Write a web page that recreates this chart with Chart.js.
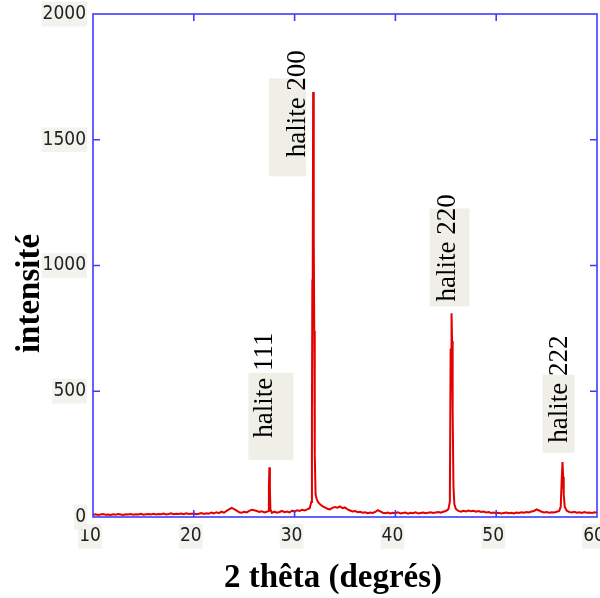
<!DOCTYPE html>
<html>
<head>
<meta charset="utf-8">
<script src="https://cdn.jsdelivr.net/npm/chart.js@4/dist/chart.umd.min.js"></script>
<style>
  html, body { margin: 0; padding: 0; background: #ffffff; }
  #wrap { width: 600px; height: 598px; }
</style>
</head>
<body>
<div id="wrap"><canvas id="c" width="600" height="598"></canvas></div>
<script>
// ---------- DATA ----------
const angles = [
  10.00,10.25,10.50,10.75,11.00,11.25,11.50,11.75,12.00,12.25,
  12.50,12.75,13.00,13.25,13.50,13.75,14.00,14.25,14.50,14.75,
  15.00,15.25,15.50,15.75,16.00,16.25,16.50,16.75,17.00,17.25,
  17.50,17.75,18.00,18.25,18.50,18.75,19.00,19.25,19.50,19.75,
  20.00,20.25,20.50,20.75,21.00,21.25,21.50,21.75,22.00,22.25,
  22.50,22.75,23.00,23.25,23.50,23.75,24.00,24.25,24.50,24.75,
  25.00,25.25,25.50,25.75,26.00,26.25,26.50,26.75,27.00,27.25,
  27.40,27.45,27.50,27.55,27.60,27.75,28.00,28.25,28.50,28.75,29.00,
  29.25,29.50,29.75,30.00,30.25,30.50,30.75,31.00,31.25,31.50,
  31.65,31.72,31.76,31.80,31.84,31.88,31.92,31.95,31.98,32.02,32.08,32.20,32.35,32.50,32.75,33.00,33.25,33.50,33.75,
  34.00,34.25,34.50,34.75,35.00,35.25,35.50,35.75,36.00,36.25,
  36.50,36.75,37.00,37.25,37.50,37.75,38.00,38.25,38.50,38.75,
  39.00,39.25,39.50,39.75,40.00,40.25,40.50,40.75,41.00,41.25,
  41.50,41.75,42.00,42.25,42.50,42.75,43.00,43.25,43.50,43.75,
  44.00,44.25,44.50,44.75,45.00,45.25,45.40,45.48,45.52,45.57,45.62,45.66,45.70,45.76,45.85,46.00,46.25,46.50,46.75,47.00,47.25,47.50,47.75,48.00,48.25,48.50,
  48.75,49.00,49.25,49.50,49.75,50.00,50.25,50.50,50.75,51.00,
  51.25,51.50,51.75,52.00,52.25,52.50,52.75,53.00,53.25,53.50,
  53.75,54.00,54.25,54.50,54.75,55.00,55.25,55.50,55.75,56.00,
  56.25,56.40,56.50,56.58,56.64,56.70,56.80,57.00,57.25,57.50,57.75,
  58.00,58.25,58.50,58.75,59.00,59.25,59.50,59.75,60.00
];
const intensities = [
  9,11,8,10,12,9,10,8,11,9,
  12,10,8,11,10,12,9,11,10,13,
  9,11,12,10,13,10,12,11,14,10,
  12,15,11,13,12,14,11,15,12,13,
  14,11,13,16,12,15,13,18,14,19,
  15,21,17,24,30,36,31,25,19,17,
  21,18,24,29,27,24,20,23,18,21,
  24,120,198,110,30,16,21,17,20,24,19,
  22,18,25,21,27,24,29,26,30,35,
  60,400,940,960,1690,1680,1100,740,720,250,90,70,58,52,43,38,33,30,36,
  40,37,42,35,38,30,26,22,24,19,
  21,17,19,15,18,16,20,27,22,17,
  15,18,14,17,15,19,14,16,18,13,
  17,15,19,14,16,18,15,17,19,16,
  18,20,17,21,24,30,60,670,660,810,700,430,420,120,50,32,24,21,25,22,26,23,25,21,24,20,
  22,18,20,16,18,15,17,14,16,18,
  15,17,14,18,16,19,17,20,18,22,
  24,30,26,21,18,20,17,19,18,21,
  24,40,150,219,160,90,40,25,20,18,21,
  17,19,16,20,17,18,16,19,17
];
const xTicks = [10, 20, 30, 40, 50, 60];
const yTicks = [0, 500, 1000, 1500, 2000];
const peakAngles = [27.50, 31.84, 45.57, 56.58];
const peakLabels = ['halite 111', 'halite 200', 'halite 220', 'halite 222'];
const xTitle = '2 thêta (degrés)';
const yTitle = 'intensité';

// ---------- STYLE / LAYOUT (not data) ----------
const FRAME = '#3c3cff';
const LINE = '#e20000';
const LABEL_BOX = '#efefe8';
// per-label placement: baseline offset from peak (px), text start as intensity value, box extents (px)
const labelPlacement = [
  { dx: 3,  yVal: 315,  box: [-24, 21, -65, 22] },
  { dx: -8, yVal: 1430, box: [-36, 1, -79, 19] },
  { dx: 3,  yVal: 857,  box: [-25, 15, -93, 5] },
  { dx: 4,  yVal: 295,  box: [-24, 8, -68, 10] }
];

const points = angles.map((a, i) => ({ x: a, y: intensities[i] }));

const whiteBg = {
  id: 'whiteBg',
  beforeDraw(chart) {
    const ctx = chart.ctx;
    ctx.save();
    ctx.fillStyle = '#ffffff';
    ctx.fillRect(0, 0, chart.width, chart.height);
    ctx.restore();
  }
};

const peakLabelsPlugin = {
  id: 'peakLabels',
  beforeDatasetsDraw(chart) {
    const ctx = chart.ctx;
    const xs = chart.scales.x, ys = chart.scales.y;
    ctx.save();
    peakLabels.forEach((txt, i) => {
      const p = labelPlacement[i];
      const bx = xs.getPixelForValue(peakAngles[i]) + p.dx;
      const by = ys.getPixelForValue(p.yVal);
      ctx.fillStyle = LABEL_BOX;
      ctx.fillRect(bx + p.box[0], by + p.box[2], p.box[1] - p.box[0], p.box[3] - p.box[2]);
      ctx.save();
      ctx.translate(bx, by);
      ctx.rotate(-Math.PI / 2);
      ctx.fillStyle = '#000000';
      ctx.font = '27px "Liberation Serif", "Times New Roman", serif';
      ctx.textAlign = 'left';
      ctx.textBaseline = 'alphabetic';
      ctx.fillText(txt, 0, 0);
      ctx.restore();
    });
    ctx.restore();
  }
};

const framePlugin = {
  id: 'frame',
  afterDatasetsDraw(chart) {
    const ctx = chart.ctx;
    const a = chart.chartArea;
    const xs = chart.scales.x, ys = chart.scales.y;
    ctx.save();
    ctx.strokeStyle = FRAME;
    ctx.lineWidth = 1.6;
    ctx.strokeRect(a.left, a.top, a.right - a.left, a.bottom - a.top);
    const len = 7;
    ctx.beginPath();
    xTicks.forEach(v => {
      const px = xs.getPixelForValue(v);
      if (v === xs.min || v === xs.max) return;
      ctx.moveTo(px, a.bottom); ctx.lineTo(px, a.bottom - len);
      ctx.moveTo(px, a.top); ctx.lineTo(px, a.top + len);
    });
    yTicks.forEach(v => {
      const py = ys.getPixelForValue(v);
      if (v === ys.min || v === ys.max) return;
      ctx.moveTo(a.left, py); ctx.lineTo(a.left + len, py);
      ctx.moveTo(a.right, py); ctx.lineTo(a.right - len, py);
    });
    ctx.stroke();
    ctx.restore();
  }
};

const titlesPlugin = {
  id: 'axisTitles',
  afterDraw(chart) {
    const ctx = chart.ctx;
    const a = chart.chartArea;
    ctx.save();
    ctx.fillStyle = '#000000';
    ctx.font = 'bold 33px "Liberation Serif", "Times New Roman", serif';
    ctx.textAlign = 'center';
    ctx.textBaseline = 'middle';
    ctx.fillText(xTitle, (a.left + a.right) / 2 - 12, 578);
    ctx.translate(30, (a.top + a.bottom) / 2 + 28);
    ctx.rotate(-Math.PI / 2);
    ctx.fillText(yTitle, 0, 0);
    ctx.restore();
  }
};

const tickFont = { family: '"Liberation Sans Narrow", "DejaVu Sans Condensed", "Liberation Sans", sans-serif', size: 19 };

new Chart(document.getElementById('c'), {
  type: 'line',
  data: {
    datasets: [{
      data: points,
      borderColor: LINE,
      borderWidth: 2,
      pointRadius: 0,
      tension: 0,
      fill: false
    }]
  },
  options: {
    responsive: false,
    animation: false,
    events: [],
    layout: { padding: { top: 14, right: 3, left: 0, bottom: 0 } },
    plugins: { legend: { display: false }, tooltip: { enabled: false }, title: { display: false } },
    scales: {
      x: {
        type: 'linear',
        min: 10, max: 60,
        afterBuildTicks: s => { s.ticks = xTicks.map(v => ({ value: v })); },
        grid: { display: false, drawTicks: false },
        border: { display: false },
        ticks: {
          color: '#222222', font: tickFont, padding: 8, labelOffset: -3, maxRotation: 0,
          callback: v => String(v),
          showLabelBackdrop: true, backdropColor: '#f3f3ee', backdropPadding: 1
        },
        afterFit: s => { s.height = 81; s.paddingLeft = 0; s.paddingRight = 0; }
      },
      y: {
        type: 'linear',
        min: 0, max: 2000,
        afterBuildTicks: s => { s.ticks = yTicks.map(v => ({ value: v })); },
        grid: { display: false, drawTicks: false },
        border: { display: false },
        ticks: {
          color: '#222222', font: tickFont, padding: 7,
          callback: v => String(v),
          showLabelBackdrop: true, backdropColor: '#f3f3ee', backdropPadding: 1
        },
        afterFit: s => { s.width = 93; s.paddingTop = 0; s.paddingBottom = 0; }
      }
    }
  },
  plugins: [whiteBg, peakLabelsPlugin, framePlugin, titlesPlugin]
});
</script>
</body>
</html>
